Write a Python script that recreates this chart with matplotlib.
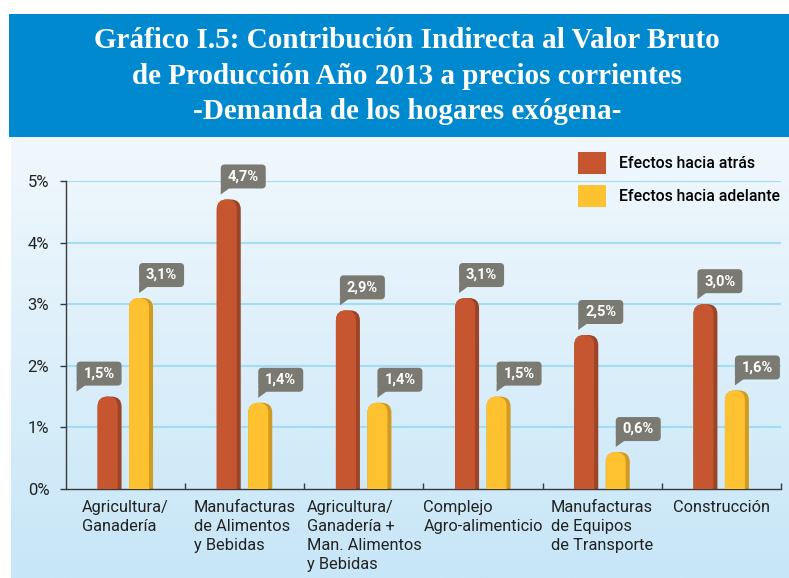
import numpy as np
import matplotlib
matplotlib.use("Agg")
import matplotlib.pyplot as plt
from matplotlib.patches import FancyBboxPatch, Rectangle, Polygon, Patch
from matplotlib.transforms import Affine2D, ScaledTranslation

# ---------------- data ----------------
categories = ["Agricultura/\nGanadería",
              "Manufacturas\nde Alimentos\ny Bebidas",
              "Agricultura/\nGanadería +\nMan. Alimentos\ny Bebidas",
              "Complejo\nAgro-alimenticio",
              "Manufacturas\nde Equipos\nde Transporte",
              "Construcción"]
backward = [1.5, 4.7, 2.9, 3.1, 2.5, 3.0]   # Efectos hacia atrás
forward = [3.1, 1.4, 1.4, 1.5, 0.6, 1.6]    # Efectos hacia adelante
series_names = ["Efectos hacia atrás", "Efectos hacia adelante"]
yticks = [0, 1, 2, 3, 4, 5]
ytick_labels = ["0%", "1%", "2%", "3%", "4%", "5%"]
title = ("Gráfico I.5: Contribución Indirecta al Valor Bruto\n"
         "de Producción Año 2013 a precios corrientes\n"
         "-Demanda de los hogares exógena-")

# ---------------- style ----------------
W, H = 789, 578
RED, RED_D = "#C6562F", "#9B4427"
YEL, YEL_D = "#FEC12F", "#CF9B22"
BLUE = "#0089CF"
GRID = "#A3DCF4"
CALLOUT = "#7A7A72"

fig = plt.figure(figsize=(W / 100, H / 100), dpi=100)

# background canvas in pixel coordinates
bg = fig.add_axes([0, 0, 1, 1], zorder=-10)
bg.set_xlim(0, W)
bg.set_ylim(H, 0)
bg.axis("off")
bg.add_patch(Rectangle((9, 14), W - 9, 123, color=BLUE, lw=0))
grad = np.linspace(0, 1, 256)[:, None]
c_top = np.array([0xF1, 0xF8, 0xFD]) / 255
c_bot = np.array([0xC7, 0xE6, 0xF7]) / 255
img = c_top[None, None, :] * (1 - grad[..., None]) + c_bot[None, None, :] * grad[..., None]
img = np.repeat(img, 2, axis=1)
bg.imshow(img, extent=(11, W, H, 137), aspect="auto", interpolation="bilinear")
bg.set_xlim(0, W)
bg.set_ylim(H, 0)

bg.text(407, 76, title, color="white", ha="center", va="center",
        family="Liberation Serif", fontweight="bold", fontsize=21,
        linespacing=1.40)

# main axes
x0, x1, ytop, ybot = 66, 781, 181, 489
ax = fig.add_axes([x0 / W, 1 - ybot / H, (x1 - x0) / W, (ybot - ytop) / H])
ax.set_facecolor("none")
n = len(categories)
ax.set_xlim(-0.5, n - 0.5)
ax.set_ylim(0, 5)

for s in ["top", "right"]:
    ax.spines[s].set_visible(False)
for s in ["left", "bottom"]:
    ax.spines[s].set_color("#3A3A3A")
    ax.spines[s].set_linewidth(1.0)

ax.set_yticks(yticks)
ax.set_yticklabels(ytick_labels, family="Roboto", fontsize=12, color="#222222")
ax.tick_params(axis="y", direction="out", length=4, width=1, color="#3A3A3A", pad=8)
for v in yticks[1:]:
    ax.axhline(v, color=GRID, lw=1.5, zorder=0.5)

xpos = np.arange(n)
ax.set_xticks(xpos)
ax.set_xticklabels(categories, family="Roboto", fontsize=11.8, color="#222222",
                   linespacing=1.34, multialignment="left")
ax.tick_params(axis="x", length=0, pad=8)
ax.set_xticks(np.arange(n) + 0.5, minor=True)
ax.tick_params(axis="x", which="minor", direction="in", length=4, width=1, color="#3A3A3A")

px_x = (x1 - x0) / n          # pixels per category unit
px_y = (ybot - ytop) / 5      # pixels per percent
bw = 24 / px_x
strip = 4 / px_x
r_px = 10
offs = [-16 / px_x, 15.5 / px_x]


def rounded_bar(xl, w, h, color, z):
    rx = r_px / px_x
    ry = r_px / px_y
    p = FancyBboxPatch((xl, -1), w, h + 1,
                       boxstyle=f"round,pad=0,rounding_size={rx}",
                       mutation_aspect=ry / rx, fc=color, ec="none",
                       zorder=z, clip_on=True)
    ax.add_patch(p)


def callout(xl, val, dx):
    bwid, bh, gap = 45, 24, 11
    tr = Affine2D() + ScaledTranslation(xl, val, ax.transData)
    box = FancyBboxPatch((dx, gap), bwid, bh, boxstyle="round,pad=0,rounding_size=4",
                         fc=CALLOUT, ec="none", transform=tr, zorder=5, clip_on=False)
    tail = Polygon([(dx, gap + 2), (dx + 9, gap + 0.5), (dx, gap - 6)], closed=True,
                   fc=CALLOUT, ec="none", transform=tr, zorder=5, clip_on=False)
    ax.add_patch(box)
    ax.add_patch(tail)
    ax.annotate(f"{val:.1f}%".replace(".", ","), xy=(xl, val), xycoords="data",
                xytext=(dx + bwid / 2, gap + bh / 2), textcoords="offset pixels",
                ha="center", va="center", color="white", family="Roboto",
                fontweight="bold", fontsize=10.5, zorder=6, annotation_clip=False)


for i in range(n):
    for j, (vals, c, cd) in enumerate([(backward, RED, RED_D), (forward, YEL, YEL_D)]):
        v = vals[i]
        xl = xpos[i] + offs[j] - bw / 2
        rounded_bar(xl, bw, v, cd, 2)
        rounded_bar(xl, bw - strip, v, c, 3)
        if j == 0:
            dx = -21 if i == 0 else 4
        else:
            dx = 10
        callout(xl, v, dx)

# legend
handles = [Patch(fc=RED, ec="none"), Patch(fc=YEL, ec="none")]
leg = fig.legend(handles, series_names, loc="upper left",
                 bbox_to_anchor=(578 / W, 1 - 152 / H), frameon=False,
                 prop={"family": "Roboto", "size": 11.3, "weight": "medium"},
                 handlelength=1.8, handleheight=1.8, handletextpad=0.8,
                 labelspacing=0.7, borderpad=0, borderaxespad=0)

fig.savefig("out.png", dpi=100)
